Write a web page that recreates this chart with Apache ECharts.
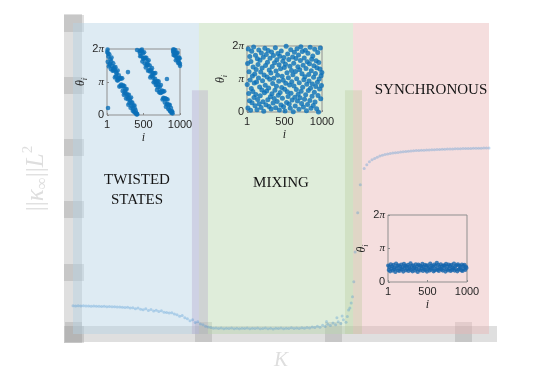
<!DOCTYPE html>
<html><head><meta charset="utf-8">
<script src="https://cdn.jsdelivr.net/npm/echarts@6/dist/echarts.min.js"></script>
<style>html,body{margin:0;padding:0;background:#fff}#c{width:540px;height:390px}</style>
</head><body><div id="c"></div>
<script>
// ---- main curve: [K, ||kappa_inf||_L2] ----
const mainPoints = [[0.00,0.455],[0.02,0.452],[0.04,0.456],[0.06,0.451],[0.08,0.454],[0.10,0.450],[0.12,0.452],[0.14,0.447],[0.16,0.450],[0.18,0.446],[0.20,0.448],[0.22,0.443],[0.24,0.446],[0.26,0.440],[0.28,0.443],[0.30,0.437],[0.32,0.440],[0.34,0.433],[0.36,0.436],[0.38,0.429],[0.40,0.426],[0.42,0.431],[0.44,0.418],[0.46,0.424],[0.48,0.405],[0.50,0.416],[0.52,0.398],[0.54,0.388],[0.56,0.405],[0.58,0.379],[0.60,0.392],[0.62,0.370],[0.64,0.382],[0.66,0.360],[0.68,0.372],[0.70,0.350],[0.72,0.345],[0.74,0.336],[0.76,0.340],[0.78,0.322],[0.80,0.310],[0.82,0.285],[0.84,0.298],[0.86,0.262],[0.88,0.245],[0.90,0.212],[0.92,0.230],[0.94,0.185],[0.96,0.196],[0.98,0.160],[1.00,0.150],[1.02,0.125],[1.04,0.112],[1.06,0.104],[1.08,0.092],[1.10,0.098],[1.12,0.088],[1.14,0.095],[1.16,0.084],[1.18,0.093],[1.20,0.089],[1.22,0.097],[1.24,0.086],[1.26,0.091],[1.28,0.083],[1.30,0.094],[1.32,0.088],[1.34,0.096],[1.36,0.085],[1.38,0.092],[1.40,0.087],[1.42,0.095],[1.44,0.084],[1.46,0.090],[1.48,0.098],[1.50,0.086],[1.52,0.093],[1.54,0.082],[1.56,0.094],[1.58,0.089],[1.60,0.097],[1.62,0.085],[1.64,0.092],[1.66,0.088],[1.68,0.099],[1.70,0.090],[1.72,0.096],[1.74,0.087],[1.76,0.102],[1.78,0.093],[1.80,0.106],[1.82,0.097],[1.84,0.112],[1.86,0.104],[1.88,0.125],[1.90,0.110],[1.92,0.140],[1.94,0.122],[1.95,0.200],[1.96,0.158],[1.98,0.135],[2.00,0.175],[2.02,0.150],[2.03,0.260],[2.04,0.195],[2.06,0.168],[2.07,0.290],[2.08,0.230],[2.10,0.190],[2.11,0.280],[2.12,0.385],[2.13,0.420],[2.14,0.500],[2.15,0.600],[2.16,0.840],[2.17,1.320],[2.19,1.950],[2.21,2.400],[2.24,2.660],[2.26,2.720],[2.28,2.770],[2.30,2.800],[2.32,2.820],[2.34,2.840],[2.36,2.860],[2.38,2.875],[2.40,2.885],[2.42,2.895],[2.44,2.900],[2.46,2.910],[2.48,2.915],[2.50,2.920],[2.52,2.925],[2.54,2.930],[2.56,2.935],[2.58,2.940],[2.60,2.943],[2.62,2.946],[2.64,2.949],[2.66,2.951],[2.68,2.953],[2.70,2.956],[2.72,2.958],[2.74,2.960],[2.76,2.962],[2.78,2.964],[2.80,2.966],[2.82,2.968],[2.84,2.970],[2.86,2.971],[2.88,2.973],[2.90,2.974],[2.92,2.976],[2.94,2.977],[2.96,2.978],[2.98,2.980],[3.00,2.981],[3.02,2.982],[3.04,2.983],[3.06,2.984],[3.08,2.985],[3.10,2.986],[3.12,2.987],[3.14,2.988],[3.16,2.989],[3.18,2.990],[3.20,2.991]];

// regime boundaries on K axis
const regimeEdges = [0, 0.969, 2.154, 3.2];
const regimeNames = ['TWISTED\nSTATES', 'MIXING', 'SYNCHRONOUS'];
const boundaryBands = [[0.915, 1.038], [2.092, 2.223]];
const boundaryBandTop = 3.92;
const mainXTicks = [0, 1, 2, 3];

// ---- inset data: [i, theta/pi] ----
const twistedPoints = [[3,1.91],[10,1.61],[18,1.77],[25,1.47],[31,1.84],[40,1.56],[47,1.69],[55,1.39],[62,1.74],[70,1.49],[78,1.34],[85,1.57],[93,1.35],[100,1.44],[108,1.14],[116,1.45],[123,1.17],[131,1.26],[139,1.05],[146,1.35],[154,1.10],[162,1.20],[169,0.86],[177,1.09],[185,0.89],[192,1.11],[200,0.87],[208,1.11],[215,0.73],[223,0.86],[231,0.61],[238,0.88],[246,0.65],[254,0.78],[261,0.50],[269,0.79],[277,0.55],[284,0.61],[292,0.31],[300,0.61],[307,0.36],[315,0.44],[323,0.22],[330,0.53],[338,0.27],[346,0.38],[353,0.13],[361,0.29],[369,0.10],[376,0.29],[384,0.07],[392,0.14],[399,0.07],[407,0.04],[415,0.02],
[15,1.86],[36,1.52],[58,1.62],[82,1.40],[105,1.38],[127,1.30],[150,1.05],[173,1.12],[196,0.92],[219,0.90],[242,0.72],[265,0.66],[288,0.48],[311,0.50],[334,0.38],[357,0.18],[380,0.20],[403,0.02],[8,1.98],[412,1.97],
[447,1.93],[455,1.78],[462,1.96],[470,1.79],[478,1.98],[485,1.62],[493,1.87],[501,1.72],[508,1.90],[516,1.56],[524,1.71],[531,1.44],[539,1.73],[547,1.54],[554,1.62],[562,1.34],[570,1.66],[577,1.36],[585,1.50],[593,1.14],[600,1.37],[608,1.18],[616,1.42],[623,1.20],[631,1.26],[639,0.99],[646,1.26],[654,1.01],[662,1.27],[669,0.91],[677,1.01],[685,0.76],[692,1.03],[700,0.84],[708,1.01],[715,0.69],[723,0.85],[731,0.67],[738,0.91],[746,0.68],[754,0.74],[761,0.47],[769,0.71],[777,0.50],[784,0.72],[792,0.38],[800,0.50],[807,0.25],[815,0.48],[823,0.33],[830,0.47],[838,0.19],[846,0.32],[853,0.16],[861,0.30],[869,0.11],[876,0.21],[884,0.06],[892,0.11],[899,0.05],
[451,1.88],[474,1.93],[497,1.70],[520,1.74],[543,1.50],[566,1.52],[589,1.32],[612,1.31],[635,1.12],[658,1.10],[681,0.92],[704,0.93],[727,0.72],[750,0.70],[773,0.52],[796,0.50],[819,0.32],[842,0.30],[865,0.12],[888,0.10],[910,1.99],
[905,1.95],[912,1.82],[920,1.97],[927,1.81],[935,1.97],[943,1.66],[950,1.86],[958,1.73],[966,1.89],[973,1.58],[981,1.75],[989,1.58],[996,1.72],[1000,1.49],
[909,1.90],[924,1.88],[939,1.78],[954,1.87],[969,1.66],[984,1.70],[998,1.55],
[287,1.30],[14,0.21],[821,1.09]];

const mixingIndex = [3,8,12,17,23,27,33,37,42,48,52,57,63,67,72,78,82,88,93,97,103,107,113,118,122,127,133,138,142,147,153,157,162,168,173,177,183,188,192,198,202,207,213,217,223,228,232,238,243,247,252,258,262,268,273,277,282,288,293,297,303,307,312,318,322,327,333,337,343,348,352,357,363,367,372,378,382,387,393,398,402,408,412,417,423,427,432,438,442,447,453,457,462,468,472,478,483,487,492,498,502,507,513,517,522,528,533,537,542,548,552,557,563,568,572,577,583,587,593,597,602,608,612,617,623,627,632,638,643,647,652,658,662,667,673,678,682,687,693,697,703,707,712,718,722,728,733,737,742,748,752,758,763,767,772,778,782,787,793,797,803,807,812,818,823,827,833,838,842,847,853,857,863,867,872,877,883,888,892,898,903,907,912,917,922,928,932,938,943,947,953,957,962,968,972,977,983,988,993,998];
const mixingTheta = [0.83,1.47,0.12,1.91,0.56,1.22,0.34,1.68,0.97,0.05,1.53,0.71,1.84,0.28,1.09,0.62,1.36,1.97,0.44,0.88,1.15,0.19,1.72,0.53,1.29,0.91,0.07,1.61,0.38,1.44,1.03,1.88,0.25,0.76,1.57,0.49,1.21,0.14,1.79,0.67,1.33,0.95,0.31,1.66,0.02,1.12,0.58,1.93,0.81,1.41,0.22,1.74,0.64,1.06,1.51,0.37,1.86,0.73,0.17,1.27,0.99,1.63,0.46,1.18,0.09,1.82,0.55,1.38,0.86,0.27,1.71,1.02,0.41,1.49,0.66,1.95,0.13,1.24,0.78,1.58,0.32,1.11,1.77,0.51,0.93,1.43,0.06,1.69,0.59,1.31,0.21,1.85,0.74,1.08,0.42,1.54,0.96,0.16,1.65,1.35,0.69,0.03,1.45,0.87,1.99,0.29,1.19,0.61,1.76,0.47,1.04,1.59,0.24,0.82,1.39,0.11,1.89,0.57,1.26,0.92,0.36,1.67,1.13,0.01,1.48,0.79,1.81,0.45,0.18,1.23,1.62,0.68,1.01,1.92,0.33,1.37,0.54,1.73,0.08,0.89,1.28,0.43,1.56,1.98,0.63,0.26,1.16,1.83,0.75,1.42,0.15,0.98,1.64,0.39,1.07,1.87,0.52,1.32,0.04,0.84,1.52,0.23,1.78,0.65,1.14,0.94,1.46,0.35,1.96,0.72,0.11,1.25,1.60,0.48,0.85,1.70,0.20,1.05,1.40,0.60,1.90,0.30,1.17,0.77,1.55,0.10,1.34,0.90,1.80,0.50,0.00,1.50,1.00,0.70,1.30,1.94,0.40,1.10,0.80,1.20];

const syncIndex = [2,10,18,27,35,43,52,60,68,77,85,93,102,110,118,127,135,143,152,160,168,177,185,193,202,210,218,227,235,243,252,260,268,277,285,293,302,310,318,327,335,343,352,360,368,377,385,393,402,410,418,427,435,443,452,460,468,477,485,493,502,510,518,527,535,543,552,560,568,577,585,593,602,610,618,627,635,643,652,660,668,677,685,693,702,710,718,727,735,743,752,760,768,777,785,793,802,810,818,827,835,843,852,860,868,877,885,893,902,910,918,927,935,943,952,960,968,977,985,993];
const syncTheta = [0.49,0.36,0.45,0.32,0.53,0.40,0.47,0.34,0.51,0.38,0.43,0.30,0.55,0.41,0.48,0.35,0.50,0.33,0.46,0.39,0.52,0.37,0.44,0.31,0.54,0.42,0.49,0.35,0.47,0.38,0.51,0.33,0.45,0.40,0.56,0.36,0.48,0.32,0.50,0.41,0.43,0.34,0.53,0.39,0.46,0.30,0.52,0.37,0.49,0.35,0.47,0.42,0.54,0.33,0.45,0.38,0.51,0.36,0.48,0.31,0.50,0.40,0.44,0.34,0.55,0.37,0.49,0.41,0.46,0.32,0.52,0.35,0.48,0.39,0.57,0.36,0.51,0.33,0.45,0.40,0.53,0.37,0.47,0.34,0.50,0.42,0.49,0.31,0.54,0.38,0.46,0.35,0.52,0.39,0.48,0.33,0.51,0.36,0.44,0.41,0.55,0.34,0.47,0.38,0.50,0.32,0.53,0.37,0.49,0.40,0.45,0.35,0.52,0.33,0.48,0.39,0.51,0.36,0.46,0.42];

const insetXTickLabels = ['1', '500', '1000'];
const insetYTickLabels = ['0', '{p|π}', '2{p|π}'];

// ---- styling ----
const axisGray = 'rgba(128,128,128,0.25)';
const regionColors = ['rgba(182,211,228,0.45)', 'rgba(184,215,173,0.45)', 'rgba(233,182,182,0.45)'];
const bandColors = ['rgba(175,155,195,0.32)', 'rgba(180,200,150,0.32)'];
const nameGray = '#dedede';
const dotBlue = '#0a6fb8';

const chart = echarts.init(document.getElementById('c'), null, {renderer: 'canvas'});

const insetGrids = [
  {left: 107, top: 49, width: 73, height: 66},
  {left: 247, top: 46, width: 75, height: 66},
  {left: 388, top: 215, width: 79, height: 67}
];

function insetX(g) {
  return {
    gridIndex: g, type: 'value', min: 0, max: 1000, interval: 500, z: 6,
    axisLine: {show: false},
    axisTick: {show: true, inside: true, length: 2, lineStyle: {color: '#8a8a8a'}},
    axisLabel: {formatter: v => insetXTickLabels[Math.round(v / 500)], fontSize: 11, color: '#262626', margin: 4, fontFamily: 'Liberation Sans'},
    splitLine: {show: false},
    name: 'i', nameLocation: 'middle', nameGap: 17,
    nameTextStyle: {fontFamily: 'Liberation Serif', fontStyle: 'italic', fontSize: 12, color: '#262626'}
  };
}
function insetY(g) {
  return {
    gridIndex: g, type: 'value', min: 0, max: 2, interval: 1, z: 6,
    axisLine: {show: false},
    axisTick: {show: true, inside: true, length: 2, lineStyle: {color: '#8a8a8a'}},
    axisLabel: {formatter: v => insetYTickLabels[Math.round(v)], fontSize: 11, color: '#262626', margin: 3, fontFamily: 'Liberation Sans',
      rich: {p: {fontFamily: 'Liberation Serif', fontStyle: 'italic', fontSize: 11, color: '#262626'}}},
    splitLine: {show: false},
    name: '{t|θ}{s|i}', nameLocation: 'middle', nameGap: 16, nameRotate: 90,
    nameTextStyle: {rich: {
      t: {fontFamily: 'Liberation Serif', fontStyle: 'italic', fontSize: 12, color: '#262626', lineHeight: 16, verticalAlign: 'middle'},
      s: {fontFamily: 'Liberation Serif', fontStyle: 'italic', fontSize: 8, color: '#262626', lineHeight: 16, verticalAlign: 'bottom'}
    }}
  };
}

const areaData = [];
for (let r = 0; r < 3; r++) {
  areaData.push([{xAxis: regimeEdges[r], yAxis: 0, itemStyle: {color: regionColors[r]}}, {xAxis: regimeEdges[r + 1], yAxis: 5}]);
}
boundaryBands.forEach((b, j) => {
  areaData.push([{xAxis: b[0], yAxis: 0, itemStyle: {color: bandColors[j]}}, {xAxis: b[1], yAxis: boundaryBandTop}]);
});

const textFont = {fontFamily: 'Liberation Serif', fontSize: 15, fill: '#151515'};

const option = {
  animation: false,
  backgroundColor: '#ffffff',
  grid: [
    {left: 73, top: 23, width: 416, height: 311},
    ...insetGrids.map(g => Object.assign({show: true, borderColor: '#8f8f8f', borderWidth: 1, backgroundColor: 'transparent', z: 6}, g))
  ],
  xAxis: [
    {gridIndex: 0, type: 'value', min: 0, max: 3.2, interval: 1, position: 'bottom',
     axisLine: {show: true, onZero: false, lineStyle: {color: axisGray, width: 16, cap: 'square'}},
     axisTick: {show: true, inside: false, length: 8, customValues: mainXTicks, lineStyle: {color: axisGray, width: 17}},
     axisLabel: {show: false}, splitLine: {show: false},
     name: 'K', nameLocation: 'middle', nameGap: 16,
     nameTextStyle: {fontFamily: 'Liberation Serif', fontStyle: 'italic', fontSize: 21, color: nameGray}},
    {gridIndex: 0, type: 'value', min: 0, max: 3.2, interval: 1, position: 'bottom',
     axisLine: {show: false, onZero: false},
     axisTick: {show: true, inside: true, length: 12, customValues: mainXTicks, lineStyle: {color: axisGray, width: 17}},
     axisLabel: {show: false}, splitLine: {show: false}},
    insetX(1), insetX(2), insetX(3)
  ],
  yAxis: [
    {gridIndex: 0, type: 'value', min: 0, max: 5, interval: 1, position: 'left',
     axisLine: {show: true, onZero: false, lineStyle: {color: axisGray, width: 18, cap: 'square'}},
     axisTick: {show: true, inside: false, length: 9, lineStyle: {color: axisGray, width: 17}},
     axisLabel: {show: false}, splitLine: {show: false},
     name: '{b|||}{k|κ}{s|∞}{b|||}{k|L}{p|2}', nameLocation: 'middle', nameGap: 22, nameRotate: 90,
     nameTextStyle: {rich: {
       b: {fontFamily: 'Liberation Serif', fontSize: 25, color: nameGray, lineHeight: 30, verticalAlign: 'middle'},
       k: {fontFamily: 'Liberation Serif', fontStyle: 'italic', fontSize: 25, color: nameGray, lineHeight: 30, verticalAlign: 'middle'},
       s: {fontFamily: 'Liberation Serif', fontSize: 17, color: nameGray, lineHeight: 30, verticalAlign: 'bottom'},
       p: {fontFamily: 'Liberation Serif', fontSize: 15, color: nameGray, lineHeight: 30, verticalAlign: 'top'}
     }}},
    {gridIndex: 0, type: 'value', min: 0, max: 5, interval: 1, position: 'left',
     axisLine: {show: false, onZero: false},
     axisTick: {show: true, inside: true, length: 11, lineStyle: {color: axisGray, width: 17}},
     axisLabel: {show: false}, splitLine: {show: false}},
    insetY(1), insetY(2), insetY(3)
  ],
  series: [
    {type: 'scatter', xAxisIndex: 0, yAxisIndex: 0, data: [], z: 1, silent: true,
     markArea: {silent: true, data: areaData}},
    {type: 'scatter', xAxisIndex: 0, yAxisIndex: 0, data: mainPoints, z: 3, symbolSize: 3,
     itemStyle: {color: 'rgba(60,140,210,0.38)'}},
    {type: 'scatter', xAxisIndex: 2, yAxisIndex: 2, data: twistedPoints, z: 7, symbolSize: 4.6,
     itemStyle: {color: dotBlue}},
    {type: 'scatter', xAxisIndex: 3, yAxisIndex: 3, data: mixingIndex.map((v, k) => [v, mixingTheta[k]]), z: 7, symbolSize: 5,
     itemStyle: {color: dotBlue}},
    {type: 'scatter', xAxisIndex: 4, yAxisIndex: 4, data: syncIndex.map((v, k) => [v, syncTheta[k]]), z: 7, symbolSize: 4.2,
     itemStyle: {color: '#1565ad'}}
  ],
  graphic: [
    {type: 'text', x: 137, y: 190, z: 10, style: Object.assign({text: regimeNames[0], align: 'center', verticalAlign: 'middle', textAlign: 'center', textVerticalAlign: 'middle', lineHeight: 20}, textFont)},
    {type: 'text', x: 281, y: 183, z: 10, style: Object.assign({text: regimeNames[1], align: 'center', verticalAlign: 'middle', textAlign: 'center', textVerticalAlign: 'middle'}, textFont)},
    {type: 'text', x: 431, y: 90, z: 10, style: Object.assign({text: regimeNames[2], align: 'center', verticalAlign: 'middle', textAlign: 'center', textVerticalAlign: 'middle'}, textFont)}
  ]
};
chart.setOption(option);
</script>
</body></html>
